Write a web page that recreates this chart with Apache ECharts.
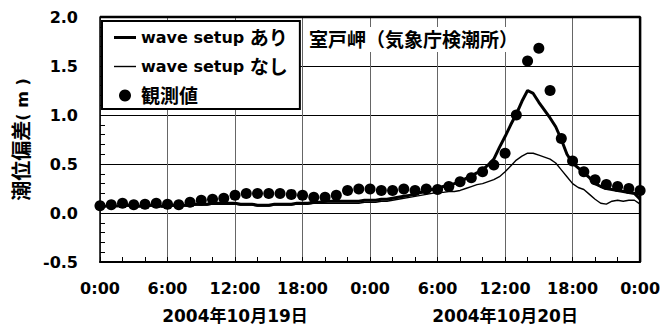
<!DOCTYPE html>
<html><head><meta charset="utf-8">
<script src="https://cdn.jsdelivr.net/npm/echarts/dist/echarts.min.js"></script>
<style>html,body{margin:0;padding:0;background:#fff}#c{width:663px;height:330px}</style>
</head><body><div id="c"></div>
<script>
// ---- data ----
const obsHours = [0,1,2,3,4,5,6,7,8,9,10,11,12,13,14,15,16,17,18,19,20,21,22,23,24,25,26,27,28,29,30,31,32,33,34,35,36,37,38,39,40,41,42,43,44,45,46,47,48];
const observed = [0.075,0.085,0.10,0.085,0.09,0.10,0.09,0.085,0.11,0.13,0.14,0.15,0.18,0.20,0.20,0.20,0.20,0.19,0.18,0.16,0.16,0.18,0.23,0.245,0.245,0.23,0.23,0.245,0.23,0.245,0.24,0.27,0.32,0.36,0.42,0.49,0.61,1.00,1.55,1.68,1.25,0.76,0.53,0.42,0.34,0.29,0.27,0.25,0.23];
const modelHours = [0,0.5,1,1.5,2,2.5,3,3.5,4,4.5,5,5.5,6,6.5,7,7.5,8,8.5,9,9.5,10,10.5,11,11.5,12,12.5,13,13.5,14,14.5,15,15.5,16,16.5,17,17.5,18,18.5,19,19.5,20,20.5,21,21.5,22,22.5,23,23.5,24,24.5,25,25.5,26,26.5,27,27.5,28,28.5,29,29.5,30,30.5,31,31.5,32,32.5,33,33.5,34,34.5,35,35.5,36,36.5,37,37.5,38,38.5,39,39.5,40,40.5,41,41.5,42,42.5,43,43.5,44,44.5,45,45.5,46,46.5,47,47.5,48];
const setupOn = [0.07,0.07,0.08,0.07,0.08,0.08,0.07,0.07,0.07,0.08,0.08,0.07,0.07,0.08,0.08,0.08,0.08,0.09,0.09,0.09,0.10,0.10,0.10,0.10,0.10,0.09,0.09,0.09,0.08,0.08,0.08,0.09,0.09,0.09,0.09,0.10,0.10,0.10,0.11,0.11,0.12,0.12,0.12,0.12,0.12,0.12,0.12,0.13,0.13,0.13,0.14,0.14,0.15,0.16,0.17,0.18,0.19,0.21,0.22,0.24,0.25,0.27,0.28,0.30,0.32,0.35,0.38,0.41,0.44,0.49,0.55,0.67,0.78,0.90,1.01,1.14,1.25,1.22,1.13,1.05,0.97,0.88,0.75,0.60,0.51,0.46,0.41,0.36,0.30,0.27,0.25,0.24,0.23,0.22,0.21,0.20,0.14];
const setupOff = [0.06,0.07,0.07,0.07,0.07,0.07,0.06,0.07,0.06,0.07,0.07,0.06,0.07,0.07,0.07,0.07,0.07,0.08,0.08,0.08,0.09,0.09,0.09,0.09,0.09,0.08,0.08,0.08,0.07,0.07,0.07,0.08,0.08,0.08,0.08,0.09,0.09,0.09,0.10,0.10,0.10,0.10,0.10,0.10,0.10,0.10,0.10,0.11,0.11,0.11,0.12,0.12,0.13,0.14,0.15,0.16,0.17,0.18,0.19,0.20,0.21,0.21,0.22,0.22,0.23,0.25,0.27,0.29,0.30,0.32,0.34,0.37,0.42,0.48,0.54,0.58,0.61,0.61,0.59,0.57,0.55,0.51,0.44,0.37,0.30,0.26,0.24,0.19,0.14,0.10,0.09,0.12,0.13,0.12,0.13,0.13,0.09];
const xTickValues = [0,6,12,18,24,30,36,42,48];
const xTickLabels = ['0:00','6:00','12:00','18:00','0:00','6:00','12:00','18:00','0:00'];
const yTickValues = [-0.5,0,0.5,1.0,1.5,2.0];
const dateLabels = {12: '2004年10月19日', 36: '2004年10月20日'};
const seriesNames = ['wave setup あり', 'wave setup なし', '観測値'];
const titleText = '室戸岬（気象庁検潮所）';
const yName = '{j|潮位偏差}( m )';

// ---- chart ----
const FF = '"DejaVu Sans", "Noto Sans CJK JP", sans-serif';
const chart = echarts.init(document.getElementById('c'), null, {renderer: 'svg'});
const wrapCJK = s => s.replace(/([^\x00-\x7f]+)/g, '{j|$1}');
const X_MIN = xTickValues[0], X_MAX = xTickValues[xTickValues.length - 1];
const Y_MIN = yTickValues[0], Y_MAX = yTickValues[yTickValues.length - 1];
const frameTR = [[X_MIN, Y_MAX], [X_MAX, Y_MAX], [X_MAX, Y_MIN]];

chart.setOption({
  animation: false,
  grid: {left: 100, right: 20, top: 17, bottom: 68},
  title: {
    text: titleText, left: 305, top: 27, backgroundColor: '#fff', padding: [3, 4, 3, 4], z: 8,
    textStyle: {fontFamily: FF, fontWeight: 'bold', fontSize: 19, color: '#000'}
  },
  legend: {
    orient: 'vertical', left: 102, top: 21, padding: [7, 12, 4, 12], itemGap: 10, z: 8,
    itemWidth: 22, itemHeight: 12, backgroundColor: '#fff', borderColor: '#000', borderWidth: 2,
    symbolKeepAspect: true,
    data: [
      {name: seriesNames[0], icon: 'path://M0,0L22,0L22,3L0,3Z'},
      {name: seriesNames[1], icon: 'path://M0,0L22,0L22,1.4L0,1.4Z'},
      {name: seriesNames[2], icon: 'circle'}
    ],
    formatter: n => wrapCJK(n),
    textStyle: {fontFamily: FF, fontWeight: 'bold', fontSize: 16, color: '#000',
      rich: {j: {fontFamily: FF, fontWeight: 'bold', fontSize: 19, color: '#000'}}}
  },
  xAxis: {
    type: 'value', min: X_MIN, max: X_MAX, interval: 6,
    axisLine: {show: true, onZero: false, lineStyle: {color: '#000', width: 2}},
    axisTick: {show: true, inside: true, length: 5, lineStyle: {color: '#000'}},
    minorTick: {show: true, splitNumber: 3, length: 5, lineStyle: {color: '#000'}},
    splitLine: {show: true, lineStyle: {color: '#666', width: 1}},
    axisLabel: {
      margin: 13, color: '#000', fontFamily: FF, fontWeight: 'bold', fontSize: 16, lineHeight: 27,
      formatter: v => {
        let s = xTickLabels[xTickValues.indexOf(v)] || '';
        if (dateLabels[v]) s += '\n{d|' + dateLabels[v] + '}';
        return s;
      },
      rich: {d: {fontFamily: FF, fontWeight: 'bold', fontSize: 17, color: '#000', lineHeight: 27}}
    }
  },
  yAxis: {
    type: 'value', min: Y_MIN, max: Y_MAX, interval: 0.5,
    name: yName, nameLocation: 'middle', nameGap: 64,
    nameTextStyle: {fontFamily: FF, fontWeight: 'bold', fontSize: 16, color: '#000',
      rich: {j: {fontFamily: FF, fontWeight: 'bold', fontSize: 20, color: '#000'}}},
    axisLine: {show: true, onZero: false, lineStyle: {color: '#000', width: 1.5}},
    axisTick: {show: true, inside: true, length: 5, lineStyle: {color: '#000'}},
    minorTick: {show: true, splitNumber: 5, length: 5, lineStyle: {color: '#000'}},
    splitLine: {show: true, lineStyle: {color: '#000', width: 1}},
    axisLabel: {margin: 22, color: '#000', fontFamily: FF, fontWeight: 'bold', fontSize: 16,
      formatter: v => v.toFixed(1)}
  },
  series: [
    {type: 'line', symbol: 'none', silent: true, clip: false, z: 2,
      lineStyle: {color: '#000', width: 2.5}, itemStyle: {color: '#000'}, data: frameTR},
    {name: seriesNames[0], type: 'line', symbol: 'none', z: 3,
      lineStyle: {color: '#000', width: 3}, itemStyle: {color: '#000'},
      data: modelHours.map((h, i) => [h, setupOn[i]])},
    {name: seriesNames[1], type: 'line', symbol: 'none', z: 3,
      lineStyle: {color: '#000', width: 1.4}, itemStyle: {color: '#000'},
      data: modelHours.map((h, i) => [h, setupOff[i]])},
    {name: seriesNames[2], type: 'scatter', symbol: 'circle', symbolSize: 11, z: 4,
      itemStyle: {color: '#000', opacity: 1},
      data: obsHours.map((h, i) => [h, observed[i]])}
  ]
});
</script></body></html>
